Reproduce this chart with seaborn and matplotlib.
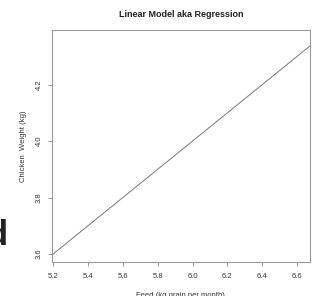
import matplotlib
matplotlib.use("Agg")
import matplotlib.pyplot as plt
import seaborn as sns
import pandas as pd

# fitted line end points (feed in kg grain/month, weight in kg)
feed = [5.191, 6.674]
weight = [3.596, 4.337]
x_ticks = [5.2, 5.4, 5.6, 5.8, 6.0, 6.2, 6.4, 6.6]
y_ticks = [3.6, 3.8, 4.0, 4.2]

sns.set_style("white")
plt.rcParams['font.family'] = ['Liberation Sans', 'DejaVu Sans']

df = pd.DataFrame({'Feed': feed, 'Weight': weight})

fig = plt.figure(figsize=(3.15, 2.96), dpi=100)
ax = fig.add_axes([0.164, 0.116, 0.820, 0.783])
sns.lineplot(data=df, x='Feed', y='Weight', ax=ax, color='#777777', linewidth=0.7)

ax.set_xlim(5.191, 6.674)
ax.set_ylim(3.573, 4.394)
ax.set_xticks(x_ticks)
ax.set_xticklabels([f"{v:.1f}" for v in x_ticks])
ax.set_yticks(y_ticks)
ax.set_yticklabels([f"{v:.1f}" for v in y_ticks], rotation=90, va='center')
ax.tick_params(axis='x', pad=5)
ax.tick_params(axis='y', pad=3.5)
ax.tick_params(axis='both', labelsize=5.5, labelcolor='#333333', color='#888888',
               length=3, width=0.6, direction='out', bottom=True, left=True)

for s in ax.spines.values():
    s.set_color('#999999')
    s.set_linewidth(0.8)

ax.set_title("Linear Model aka Regression", fontsize=6.5, fontweight='bold', color='#222222', pad=9)
ax.set_xlabel("Feed (kg grain per month)", fontsize=5.5, color='#333333', labelpad=9)
ax.set_ylabel("Chicken  Weight (kg)", fontsize=5.5, color='#333333', labelpad=6)

# leftover letter from the slide behind the chart, mostly cut off
fig.text(8 / 315, 1 - 245 / 296, "d", fontsize=25, fontweight='bold', ha='right',
         va='baseline', color='#222222')

fig.savefig("out.png", dpi=100, facecolor='white')
